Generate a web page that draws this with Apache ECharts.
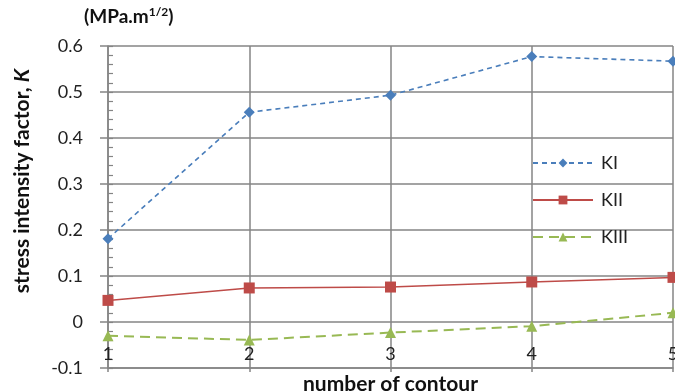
<!DOCTYPE html>
<html>
<head>
<meta charset="utf-8">
<script src="https://cdn.jsdelivr.net/npm/echarts@6/dist/echarts.min.js"></script>
<style>
html,body{margin:0;padding:0;background:#fff;}
#c{width:675px;height:392px;}
</style>
</head>
<body>
<div id="c"></div>
<script>
var contours = [1, 2, 3, 4, 5];
var KI   = [0.181, 0.456, 0.493, 0.577, 0.567];
var KII  = [0.047, 0.074, 0.076, 0.087, 0.097];
var KIII = [-0.030, -0.039, -0.023, -0.009, 0.020];
var yTicks = [-0.1, 0, 0.1, 0.2, 0.3, 0.4, 0.5, 0.6];

function pairs(v){ return contours.map(function(x,i){ return [x, v[i]]; }); }

var FONT = 'Lato, "Open Sans", sans-serif';
var GRID = '#858585';
var chart = echarts.init(document.getElementById('c'));
chart.setOption({
  animation: false,
  backgroundColor: '#fff',
  textStyle: { fontFamily: FONT },
  grid: { left: 108, right: 2, top: 46, bottom: 24, outerBoundsMode: 'none', containLabel: false },
  xAxis: {
    type: 'value', min: 1, max: 5, interval: 1,
    axisLine: { show: true, onZero: false, lineStyle: { color: GRID, width: 1.5 } },
    axisTick: { show: true, length: 4, lineStyle: { color: GRID, width: 1.5 } },
    splitLine: { show: true, lineStyle: { color: GRID, width: 1.5 } },
    axisLabel: { inside: true, margin: 5, color: '#222', fontSize: 18, fontFamily: FONT,
      showMinLabel: true, showMaxLabel: true, hideOverlap: false },
    name: 'number of contour', nameLocation: 'middle', nameGap: 5,
    nameTextStyle: { fontWeight: 'bold', fontSize: 21, color: '#111', fontFamily: FONT, verticalAlign: 'top' }
  },
  yAxis: [{
    type: 'value', min: -0.1, max: 0.6, interval: 0.1,
    axisLine: { show: true, onZero: false, lineStyle: { color: GRID, width: 1.5 } },
    axisTick: { show: true, length: 8, lineStyle: { color: GRID, width: 1.5 } },
    splitLine: { show: true, lineStyle: { color: GRID, width: 1.5 } },
    axisLabel: { margin: 25, color: '#222', fontSize: 18, fontFamily: FONT,
      formatter: function(v){ return String(Math.round(v*10)/10); } }
  }, {
    type: 'value', min: -0.1, max: 0.6, interval: 0.1, position: 'left', offset: 0,
    axisLine: { show: false },
    axisTick: { show: true, inside: true, length: 5, lineStyle: { color: GRID, width: 1.2 } },
    minorTick: { show: true, splitNumber: 5, length: 5, lineStyle: { color: GRID, width: 1.2 } },
    splitLine: { show: false },
    axisLabel: { show: false }
  }],
  legend: {
    orient: 'vertical', left: 527, top: 149, itemGap: 19, itemWidth: 60, itemHeight: 11,
    textStyle: { color: '#222', fontSize: 18, fontFamily: FONT, padding: [0, 0, 0, 3] },
    data: ['KI', 'KII', 'KIII']
  },
  graphic: [{
    type: 'text', left: 84, top: 6,
    style: {
      text: '{b|(MPa.m}{s|1/2}{b|)}',
      rich: {
        b: { fontWeight: 'bold', fontSize: 19, fill: '#111', fontFamily: FONT, verticalAlign: 'bottom' },
        s: { fontWeight: 'bold', fontSize: 12, fill: '#111', fontFamily: FONT, verticalAlign: 'top', padding: [0,0,8,0] }
      }
    }
  }, {
    type: 'text', x: 22, y: 181, rotation: Math.PI / 2,
    style: {
      text: '{b|stress intensity factor, }{i|K}',
      align: 'center', verticalAlign: 'middle',
      rich: {
        b: { fontWeight: 'bold', fontSize: 21, fill: '#111', fontFamily: FONT },
        i: { fontWeight: 'bold', fontStyle: 'italic', fontSize: 21, fill: '#111', fontFamily: FONT }
      }
    }
  }],
  series: [{
    name: 'KI', type: 'line', data: pairs(KI),
    symbol: 'diamond', symbolSize: 11,
    itemStyle: { color: '#4a7ebb' },
    lineStyle: { color: '#4a7ebb', width: 1.6, type: [5, 4] }
  }, {
    name: 'KII', type: 'line', data: pairs(KII),
    symbol: 'rect', symbolSize: 11,
    itemStyle: { color: '#be4b48' },
    lineStyle: { color: '#be4b48', width: 1.5 }
  }, {
    name: 'KIII', type: 'line', data: pairs(KIII),
    symbol: 'triangle', symbolSize: 11,
    itemStyle: { color: '#98b954' },
    lineStyle: { color: '#98b954', width: 2, type: [10, 6] }
  }]
});
</script>
</body>
</html>
